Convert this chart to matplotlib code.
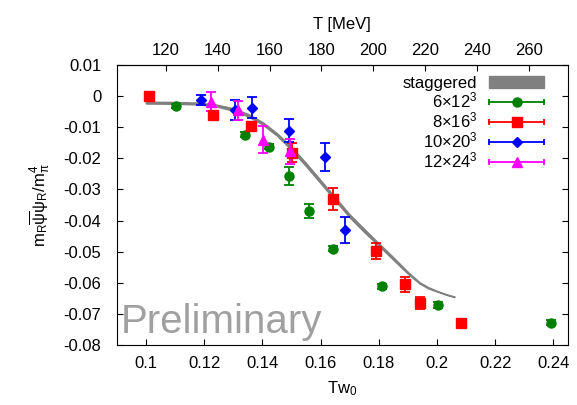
import matplotlib
matplotlib.use("Agg")
import matplotlib.pyplot as plt
from matplotlib.lines import Line2D
from matplotlib.patches import Patch
from matplotlib.legend_handler import HandlerLine2D, HandlerTuple
import numpy as np

plt.rcParams['font.family'] = ['Liberation Sans', 'DejaVu Sans']
plt.rcParams['mathtext.fontset'] = 'custom'
plt.rcParams['mathtext.rm'] = 'Liberation Sans'
plt.rcParams['mathtext.it'] = 'Liberation Sans'
plt.rcParams['mathtext.sf'] = 'Liberation Sans'

# staggered band (Tw0, centre, half width)
stag_x = [0.100, 0.110, 0.118, 0.124, 0.130, 0.135, 0.140, 0.145, 0.150, 0.155,
          0.160, 0.165, 0.170, 0.175, 0.180, 0.185, 0.190, 0.194, 0.197, 0.200,
          0.203, 0.206]
stag_y = [-0.0021, -0.0022, -0.0024, -0.0030, -0.0043, -0.0061, -0.0087, -0.0123,
          -0.0168, -0.0220, -0.0275, -0.0330, -0.0385, -0.0432, -0.0477, -0.0522,
          -0.0568, -0.0600, -0.0616, -0.0627, -0.0637, -0.0645]
stag_e = [0.0003, 0.0003, 0.0003, 0.0003, 0.0004, 0.0004, 0.0004, 0.0004, 0.0005,
          0.0005, 0.0005, 0.0005, 0.0005, 0.0005, 0.0004, 0.0004, 0.0003, 0.0002,
          0.0002, 0.0001, 0.0001, 0.0001]

# 6x12^3
x6 = [0.1103, 0.1341, 0.1423, 0.1492, 0.1562, 0.1642, 0.1812, 0.2002, 0.2392]
y6 = [-0.0032, -0.0125, -0.0163, -0.0257, -0.0370, -0.0491, -0.0611, -0.0672, -0.0729]
e6 = [0.0005, 0.0008, 0.0008, 0.0030, 0.0022, 0.0008, 0.0008, 0.0010, 0.0008]

# 8x16^3
x8 = [0.1011, 0.1231, 0.1361, 0.1503, 0.1643, 0.1790, 0.1890, 0.1940, 0.2082]
y8 = [0.0000, -0.0061, -0.0096, -0.0182, -0.0331, -0.0497, -0.0605, -0.0664, -0.0729]
e8 = [0.0005, 0.0008, 0.0010, 0.0030, 0.0034, 0.0026, 0.0023, 0.0020, 0.0008]

# 10x20^3
x10 = [0.1191, 0.1305, 0.1365, 0.1490, 0.1617, 0.1684]
y10 = [-0.0013, -0.0045, -0.0037, -0.0112, -0.0196, -0.0430]
e10 = [0.0016, 0.0032, 0.0035, 0.0037, 0.0044, 0.0041]

# 12x24^3
x12 = [0.1225, 0.1315, 0.1404, 0.1495]
y12 = [-0.0018, -0.0046, -0.0140, -0.0178]
e12 = [0.0030, 0.0030, 0.0044, 0.0040]

T_ticks = [120, 140, 160, 180, 200, 220, 240, 260]
conv = 1123.0  # MeV per unit of Tw0

fig = plt.figure(figsize=(5.77, 4.05), dpi=100)
ax = fig.add_axes([0.2023, 0.148, 0.7821, 0.6917])

sy = np.array(stag_y)
se = np.array(stag_e)
ax.fill_between(stag_x, sy - se, sy + se, color='#808080', lw=1.0, edgecolor='#808080', zorder=1)

series = [
    (x6, y6, e6, '#008000', 'o', 6.5, r'$\mathregular{6{\times}12^3}$'),
    (x8, y8, e8, '#ff0000', 's', 7.5, r'$\mathregular{8{\times}16^3}$'),
    (x10, y10, e10, '#0000ff', 'D', 4.8, r'$\mathregular{10{\times}20^3}$'),
    (x12, y12, e12, '#ff00ff', '^', 6.5, r'$\mathregular{12{\times}24^3}$'),
]

handles = [Patch(facecolor='#808080', edgecolor='#808080')]
labels = ['staggered']
hmap = {}
for xs, ys, es, c, m, ms, lab in series:
    ax.errorbar(xs, ys, yerr=es, fmt=m, color=c, ms=ms, capsize=3.5,
                elinewidth=1.3, capthick=1.3, zorder=3)
    bar = Line2D([], [], color=c, lw=1.3, marker='|', ms=5, mew=1.3)
    mk = Line2D([], [], color=c, marker=m, ms=ms, ls='none')
    hmap[bar] = HandlerLine2D(numpoints=2, marker_pad=0)
    hmap[mk] = HandlerLine2D(numpoints=1)
    handles.append((bar, mk))
    labels.append(lab)
hmap[tuple] = HandlerTuple(ndivide=1)

ax.set_xlim(0.09, 0.245)
ax.set_ylim(-0.08, 0.01)
ax.set_xticks(np.arange(0.10, 0.241, 0.02))
ax.set_xticklabels(['0.1', '0.12', '0.14', '0.16', '0.18', '0.2', '0.22', '0.24'])
ax.set_yticks(np.arange(-0.08, 0.0101, 0.01))
ax.set_yticklabels(['-0.08', '-0.07', '-0.06', '-0.05', '-0.04', '-0.03', '-0.02',
                    '-0.01', '0', '0.01'])
ax.tick_params(axis='both', direction='in', length=4, width=0.8, labelsize=12)
ax.tick_params(axis='y', right=True, pad=11)
ax.tick_params(axis='x', top=False, pad=8)
for s in ax.spines.values():
    s.set_linewidth(0.8)

sec = ax.secondary_xaxis('top', functions=(lambda x: x * conv, lambda t: t / conv))
sec.set_xticks(T_ticks)
sec.tick_params(direction='in', length=4, width=0.8, labelsize=12, pad=5)
sec.set_xlabel('T [MeV]', fontsize=12, labelpad=10)

ax.set_xlabel(r'$\mathregular{Tw_0}$', fontsize=12, labelpad=6)
ax.set_ylabel(r'$\mathregular{m_R\overline{\psi}\psi_R/m_\pi^4}$', fontsize=12, labelpad=8)

ax.legend(handles, labels, handler_map=hmap, loc='upper right', frameon=False,
          markerfirst=False, fontsize=12, handlelength=3.3, handletextpad=0.7,
          labelspacing=0.0, borderaxespad=0.2, borderpad=0.2,
          bbox_to_anchor=(0.962, 0.985))

ax.text(0.008, 0.015, 'Preliminary', transform=ax.transAxes, fontsize=29,
        color='#a0a0a0', ha='left', va='bottom', zorder=0)

fig.savefig('out.png', dpi=100)
